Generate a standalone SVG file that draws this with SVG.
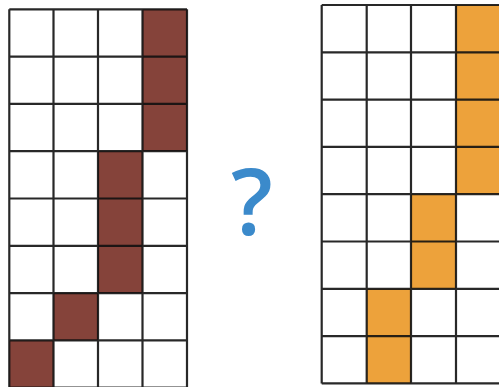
<svg xmlns="http://www.w3.org/2000/svg" width="499" height="387" viewBox="0 0 499 387">
<style>
.g{stroke:#111;stroke-width:2.2;fill:none;stroke-opacity:0.9}
.b{fill:#85433A}
.o{fill:#EDA23B}
.q{font-family:"Open Sans",sans-serif;font-size:92px;font-weight:600;fill:#3B8ACB}
</style>
<rect width="499" height="387" fill="#fff"/>
<g id="left-grid">
<rect class="b" x="142.5" y="9.3" width="44.5" height="141.9"/>
<rect class="b" x="98" y="151.2" width="44.5" height="141.9"/>
<rect class="b" x="53.5" y="293.1" width="44.5" height="47.3"/>
<rect class="b" x="9.3" y="340.4" width="44.2" height="47.3"/>
<path class="g" d="M9.3 9.3V388M53.5 9.3V388M98 9.3V388M142.5 9.3V388M187 9.3V388M9.3 9.3H187M9.3 56.6H187M9.3 103.9H187M9.3 151.2H187M9.3 198.5H187M9.3 245.8H187M9.3 293.1H187M9.3 340.4H187M9.3 387.7H187"/>
</g>
<g id="right-grid">
<rect class="o" x="456" y="5" width="45" height="189.2"/>
<rect class="o" x="411" y="194.2" width="45" height="94.6"/>
<rect class="o" x="366.7" y="288.8" width="44.3" height="94.6"/>
<path class="g" d="M321.7 5V383.4M366.7 5V383.4M411 5V383.4M456 5V383.4M321.7 5H501M321.7 52.3H501M321.7 99.6H501M321.7 146.9H501M321.7 194.2H501M321.7 241.5H501M321.7 288.8H501M321.7 336.1H501M321.7 383.4H501"/>
</g>
<text id="question" class="q" x="252" y="235" text-anchor="middle">?</text>
</svg>
